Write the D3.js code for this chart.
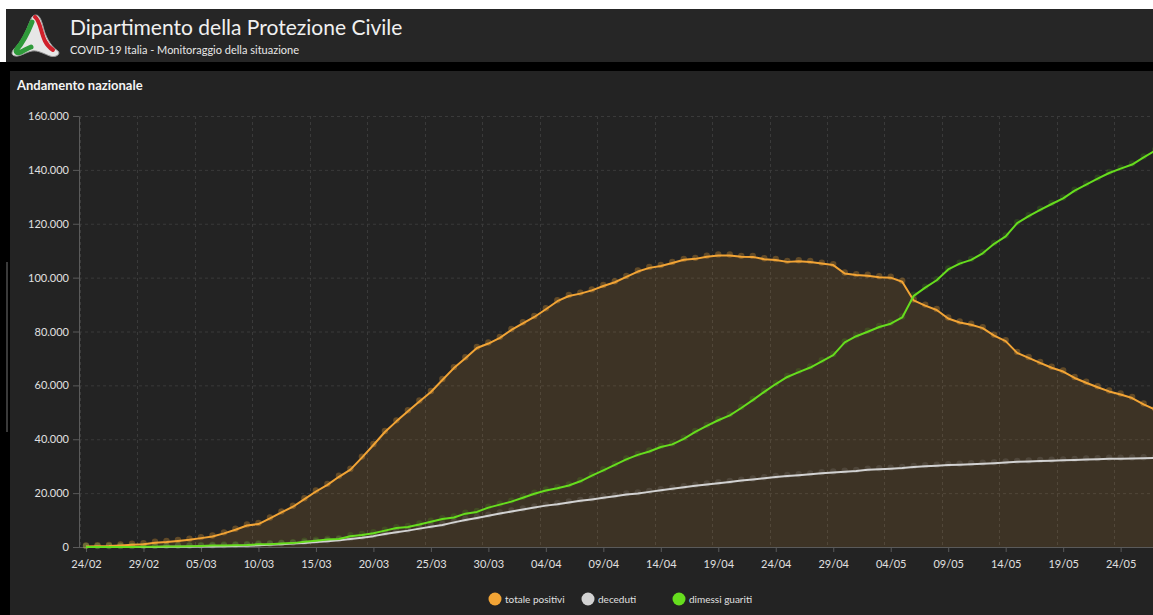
<!DOCTYPE html>
<html>
<head>
<meta charset="utf-8">
<script src="https://cdn.jsdelivr.net/npm/d3@7"></script>
<style>
  html, body { margin: 0; padding: 0; background: #fff; overflow: hidden; }
  svg { display: block; font-family: Lato, "Open Sans", sans-serif; }
</style>
</head>
<body>
<div id="chart"></div>
<script>
// dati giornalieri 24/02 - 27/05
dates = ["24/02","25/02","26/02","27/02","28/02","29/02","01/03","02/03","03/03","04/03",
  "05/03","06/03","07/03","08/03","09/03","10/03","11/03","12/03","13/03","14/03",
  "15/03","16/03","17/03","18/03","19/03","20/03","21/03","22/03","23/03","24/03",
  "25/03","26/03","27/03","28/03","29/03","30/03","31/03","01/04","02/04","03/04",
  "04/04","05/04","06/04","07/04","08/04","09/04","10/04","11/04","12/04","13/04",
  "14/04","15/04","16/04","17/04","18/04","19/04","20/04","21/04","22/04","23/04",
  "24/04","25/04","26/04","27/04","28/04","29/04","30/04","01/05","02/05","03/05",
  "04/05","05/05","06/05","07/05","08/05","09/05","10/05","11/05","12/05","13/05",
  "14/05","15/05","16/05","17/05","18/05","19/05","20/05","21/05","22/05","23/05",
  "24/05","25/05","26/05","27/05"]

totalePositivi = [221,311,385,588,821,1049,1577,1835,2263,2706,
  3296,3916,5061,6387,7985,8514,10590,12839,14955,17750,
  20603,23073,26062,28710,33190,37860,42681,46638,50418,54030,
  57521,62013,66414,70065,73880,75528,77635,80572,83049,85388,
  88274,91246,93187,94067,95262,96877,98273,100269,102253,103616,
  104291,105418,106607,106962,107771,108257,108237,107709,107699,106848,
  106527,105847,106103,105813,105205,104657,101551,100943,100704,100179,
  99980,98467,91528,89624,87961,84842,83324,82488,81266,78457,
  76440,72070,70187,68351,66553,65129,62752,60960,59322,57752,
  56594,55300,52942,50966]

deceduti = [7,10,12,17,21,29,34,52,79,107,
  148,197,233,366,463,631,827,1016,1266,1441,
  1809,2158,2503,2978,3405,4032,4825,5476,6077,6820,
  7503,8165,9134,10023,10779,11591,12428,13155,13915,14681,
  15362,15887,16523,17127,17669,18279,18849,19468,19899,20465,
  21067,21645,22170,22745,23227,23660,24114,24648,25085,25549,
  25969,26384,26644,26977,27359,27682,27967,28236,28710,28884,
  29079,29315,29684,29958,30201,30395,30560,30739,30911,31106,
  31368,31610,31763,31908,32007,32169,32330,32486,32616,32735,
  32785,32877,32955,33072]

dimessiGuariti = [1,1,3,45,46,50,83,149,160,276,
  414,523,589,622,724,1004,1045,1258,1439,1966,
  2335,2749,2941,4025,4440,5129,6072,7024,7432,8326,
  9362,10361,10950,12384,13030,14620,15729,16847,18278,19758,
  20996,21815,22837,24392,26491,28470,30455,32534,34211,35435,
  37130,38092,40164,42727,44927,47055,48877,51600,54543,57576,
  60498,63120,64928,66624,68941,71252,75945,78249,79914,81654,
  82879,85231,93245,96276,99023,103031,105186,106587,109039,112541,
  115288,120205,122810,125176,127326,129401,132282,134560,136720,138840,
  140479,141981,144658,147101]

xTickLabels = ["24/02","29/02","05/03","10/03","15/03","20/03","25/03","30/03","04/04","09/04",
  "14/04","19/04","24/04","29/04","04/05","09/05","14/05","19/05","24/05"]
yTickValues = [0, 20000, 40000, 60000, 80000, 100000, 120000, 140000, 160000]

seriesNames = ["totale positivi", "deceduti", "dimessi guariti"]
seriesColors = ["#f2a435", "#d2d2d2", "#66dd1e"]
dotOpacity = [0.3, 0.12, 0.15]

const W = 1153, H = 615;
const parseDay = s => d3.timeParse("%d/%m/%Y")(s + "/2020");
const itLocale = d3.formatLocale({ decimal: ",", thousands: ".", grouping: [3], currency: ["€", ""] });
const fmt = itLocale.format(",d");

const days = dates.map(parseDay);
const series = [totalePositivi, deceduti, dimessiGuariti].map((vals, i) => ({
  name: seriesNames[i],
  color: seriesColors[i],
  dot: dotOpacity[i],
  values: vals.map((v, j) => ({ date: days[j], value: v }))
}));

const svg = d3.select("#chart").append("svg")
  .attr("width", W).attr("height", H);

// sfondo pagina / header / pannello
svg.append("rect").attr("x", 0).attr("y", 62).attr("width", W).attr("height", H - 62).attr("fill", "#000");
svg.append("rect").attr("x", 6).attr("y", 9).attr("width", W - 6).attr("height", 53).attr("fill", "#262626");
svg.append("rect").attr("x", 10).attr("y", 71).attr("width", W - 10).attr("height", H - 71).attr("fill", "#232323");
svg.append("rect").attr("x", 6).attr("y", 262).attr("width", 2).attr("height", 170).attr("fill", "#3a3a3a");

// logo
const logo = svg.append("g");
logo.append("path")
  .attr("d", "M36,15 C40,15 42,22 44,30 C47,40 52,47 58,51 C61,54 56,58 50,56 C44,54 38,50 32,51 C26,52 20,57 15,56 C10,55 12,50 16,47 C24,38 28,26 31,19 C32,16 34,15 36,15 Z")
  .attr("fill", "#e6e6e6").attr("stroke", "#9a9a9a").attr("stroke-width", 1);
logo.append("path")
  .attr("d", "M35,17 C40,20 41,33 45,41 C47,45 50,48 53,50")
  .attr("fill", "none").attr("stroke", "#d0202a").attr("stroke-width", 4).attr("stroke-linecap", "round");
logo.append("path")
  .attr("d", "M32,22 C28,32 24,41 17,49 C15,52 17,54 21,52 C25,50 28,48 31,47")
  .attr("fill", "none").attr("stroke", "#2f9a3a").attr("stroke-width", 5).attr("stroke-linecap", "round");

svg.append("text").attr("x", 70).attr("y", 35)
  .attr("font-size", 21).attr("fill", "#f0f0f0")
  .text("Dipartimento della Protezione Civile");
svg.append("text").attr("x", 70).attr("y", 54)
  .attr("font-size", 11).attr("fill", "#e8e8e8")
  .text("COVID-19 Italia - Monitoraggio della situazione");

svg.append("text").attr("x", 17).attr("y", 90)
  .attr("font-size", 13).attr("font-weight", "bold").attr("fill", "#f4f4f4")
  .text("Andamento nazionale");

// scale
const pxPerDay = 11.496;
const x = d3.scaleTime()
  .domain([days[0], days[days.length - 1]])
  .range([86, 86 + pxPerDay * (days.length - 1)]);
const y = d3.scaleLinear().domain([0, 160000]).range([547, 116]);
const x0 = 79, x1 = W;

// griglia
const grid = svg.append("g").attr("stroke", "#3a3a3a").attr("stroke-dasharray", "3,3").attr("stroke-width", 1);
grid.selectAll(".hg").data(yTickValues.filter(v => v > 0)).join("line")
  .attr("x1", x0).attr("x2", x1)
  .attr("y1", d => y(d) + 0.5).attr("y2", d => y(d) + 0.5);
grid.selectAll(".vg").data(xTickLabels.map(parseDay)).join("line")
  .attr("x1", d => Math.round(x(d3.timeHour.offset(d, -13))) + 0.5)
  .attr("x2", d => Math.round(x(d3.timeHour.offset(d, -13))) + 0.5)
  .attr("y1", y(160000)).attr("y2", y(0));

// area totale positivi
svg.append("path")
  .datum(series[0].values)
  .attr("fill", series[0].color).attr("fill-opacity", 0.13)
  .attr("d", d3.area().x(d => x(d.date)).y0(y(0)).y1(d => y(d.value)));

// assi
const yAxis = svg.append("g")
  .attr("transform", `translate(${x0},0)`)
  .call(d3.axisLeft(y).tickValues(yTickValues).tickFormat(fmt).tickSize(6).tickPadding(4).tickSizeOuter(0));
const xAxis = svg.append("g")
  .attr("transform", `translate(0,${y(0)})`)
  .call(d3.axisBottom(x).tickValues(xTickLabels.map(parseDay)).tickFormat(d3.timeFormat("%d/%m")).tickSize(5).tickPadding(8));
xAxis.select(".domain").remove();
svg.append("line").attr("x1", x0).attr("x2", x1).attr("y1", y(0) + 0.5).attr("y2", y(0) + 0.5)
  .attr("stroke", "#5a5a5a");
[yAxis, xAxis].forEach(a => {
  a.selectAll(".domain").attr("stroke", "#5a5a5a");
  a.selectAll(".tick line").attr("stroke", "#5a5a5a");
  a.selectAll(".tick text").attr("fill", "#e0e0e0").attr("font-size", 11)
    .attr("font-family", "Lato, 'Open Sans', sans-serif");
});

// punti e linee
const line = d3.line().x(d => x(d.date)).y(d => y(d.value));
series.forEach(s => {
  svg.append("g").selectAll("circle").data(s.values).join("circle")
    .attr("cx", d => x(d.date)).attr("cy", d => y(d.value) - 1)
    .attr("r", 3.2).attr("fill", s.color).attr("fill-opacity", s.dot);
});
series.forEach(s => {
  svg.append("path").datum(s.values)
    .attr("fill", "none").attr("stroke", s.color).attr("stroke-width", 2)
    .attr("stroke-linejoin", "round")
    .attr("d", line);
});

// legenda
const legendX = [495, 588, 679];
const legend = svg.append("g").selectAll("g").data(series).join("g")
  .attr("transform", (d, i) => `translate(${legendX[i]},599)`);
legend.append("circle").attr("r", 6.5).attr("fill", d => d.color);
legend.append("text").attr("x", 10).attr("dy", "0.35em")
  .attr("font-size", 10).attr("fill", "#e0e0e0")
  .text(d => d.name);
</script>
</body>
</html>
